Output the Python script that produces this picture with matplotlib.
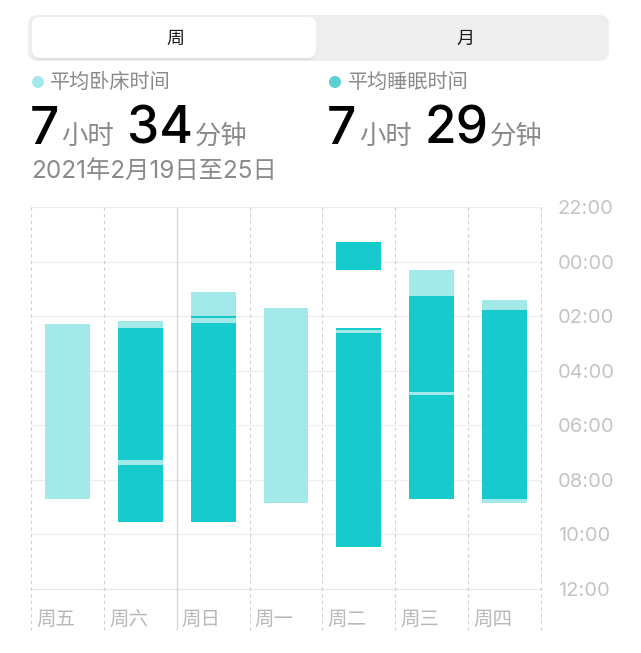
import matplotlib
matplotlib.use('Agg')
import matplotlib.pyplot as plt
from matplotlib.patches import FancyBboxPatch, Circle

plt.rcParams['font.family'] = ['Inter', 'Noto Sans CJK SC', 'DejaVu Sans']

# data
days = ['周五', '周六', '周日', '周一', '周二', '周三', '周四']
in_bed = [
    [('02:18', '08:41')],
    [('02:11', '09:32')],
    [('01:08', '09:32')],
    [('01:43', '08:51')],
    [('23:17', '00:18'), ('02:27', '10:28')],
    [('00:18', '08:41')],
    [('01:25', '08:50')],
]
asleep = [
    [],
    [('02:25', '07:16'), ('07:27', '09:32')],
    [('02:00', '02:05'), ('02:14', '09:32')],
    [],
    [('23:17', '00:18'), ('02:27', '02:31'), ('02:37', '10:28')],
    [('01:15', '04:47'), ('04:53', '08:41')],
    [('01:46', '08:43')],
]
y_labels = ['22:00', '00:00', '02:00', '04:00', '06:00', '08:00', '10:00', '12:00']
bed_avg = ('7', '34')
sleep_avg = ('7', '29')
date_text = '2021年2月19日至25日'

LIGHT = '#a3e9ea'
DARK = '#17cbcc'


def to_h(s):
    h, m = map(int, s.split(':'))
    v = h + m / 60
    return v if v >= 18 else v + 24


W, H = 641, 653
fig = plt.figure(figsize=(W / 100, H / 100), dpi=100)
fig.patch.set_facecolor('white')

# pixel space for the header
bg = fig.add_axes([0, 0, 1, 1])
bg.set_xlim(0, W)
bg.set_ylim(H, 0)
bg.axis('off')

# segmented control
bg.add_patch(FancyBboxPatch((28 + 10, 15 + 10), 581 - 20, 46 - 20,
                            boxstyle='round,pad=10', fc='#eeeeee', ec='none'))
bg.add_patch(FancyBboxPatch((32 + 8, 19 + 8), 284 - 16, 41 - 16,
                            boxstyle='round,pad=8', fc='#d4d4d4', ec='none', alpha=0.6))
bg.add_patch(FancyBboxPatch((32 + 8, 17 + 8), 284 - 16, 41 - 16,
                            boxstyle='round,pad=8', fc='white', ec='none'))
bg.text(175, 39, '周', fontsize=13, color='#1a1a1a', ha='center', va='center', fontweight='medium')
bg.text(465, 39, '月', fontsize=13, color='#1a1a1a', ha='center', va='center', fontweight='medium')

# legends and averages
bg.add_patch(Circle((38, 82), 6, fc=LIGHT, ec='none'))
bg.text(50, 82, '平均卧床时间', fontsize=14.5, color='#8a8a8a', va='center')
bg.add_patch(Circle((335, 82), 6, fc='#5ccfd2', ec='none'))
bg.text(348, 82, '平均睡眠时间', fontsize=14.5, color='#8a8a8a', va='center')

for x0, (hh, mm), xs in [(30, bed_avg, (61, 127, 195)), (327, sleep_avg, (359, 424, 490))]:
    bg.text(x0, 144, hh, fontsize=37, color='black', va='baseline', fontweight='medium')
    bg.text(xs[0], 144, '小时', fontsize=19, color='#8a8a8a', va='baseline')
    bg.text(xs[1], 144, mm, fontsize=37, color='black', va='baseline', fontweight='medium')
    bg.text(xs[2], 144, '分钟', fontsize=19, color='#8a8a8a', va='baseline')

bg.text(31, 172, date_text, fontsize=17.5, color='#8a8a8a', va='center')

# chart
px_per_h = (589 - 207) / 14
top, bottom_px = 207, 630
ax = fig.add_axes([31 / W, (H - bottom_px) / H, 510 / W, (bottom_px - top) / H])
ax.set_facecolor('none')
ax.set_xlim(0, 7)
y_bottom = 22 + (bottom_px - top) / px_per_h
ax.set_ylim(y_bottom, 22)
for s in ax.spines.values():
    s.set_visible(False)

ticks = [22 + 2 * i for i in range(len(y_labels))]
for t in ticks:
    ax.axhline(t, color='#e6e6e6' if t == ticks[-1] else '#eeeeee', lw=0.9, zorder=0)
for i in range(8):
    if i == 2:
        ax.vlines(i, 22, y_bottom, color='#d6d6d6', lw=0.9, zorder=0, clip_on=False)
    else:
        ax.vlines(i, 22, y_bottom, color='#cfcfcf', lw=0.8, linestyles=(0, (3, 3)),
                  zorder=0, clip_on=False)

ax.yaxis.tick_right()
ax.set_yticks(ticks)
ax.set_yticklabels(y_labels)
ax.tick_params(axis='y', length=0, pad=12, labelsize=14.5, labelcolor='#c4c4c4')
ax.set_xticks([])

bw = 45 / (510 / 7)
for i, day in enumerate(days):
    for a, b in in_bed[i]:
        ax.bar(i + 0.5, to_h(b) - to_h(a), bottom=to_h(a), width=bw, color=LIGHT, zorder=2)
    for a, b in asleep[i]:
        ax.bar(i + 0.5, to_h(b) - to_h(a), bottom=to_h(a), width=bw, color=DARK, zorder=3)
    ax.text(i + 0.07, 36 + (620 - 589) / px_per_h, day, fontsize=14, color='#b8b8b8',
            ha='left', va='center')

fig.savefig('out.png', dpi=100, facecolor='white')
